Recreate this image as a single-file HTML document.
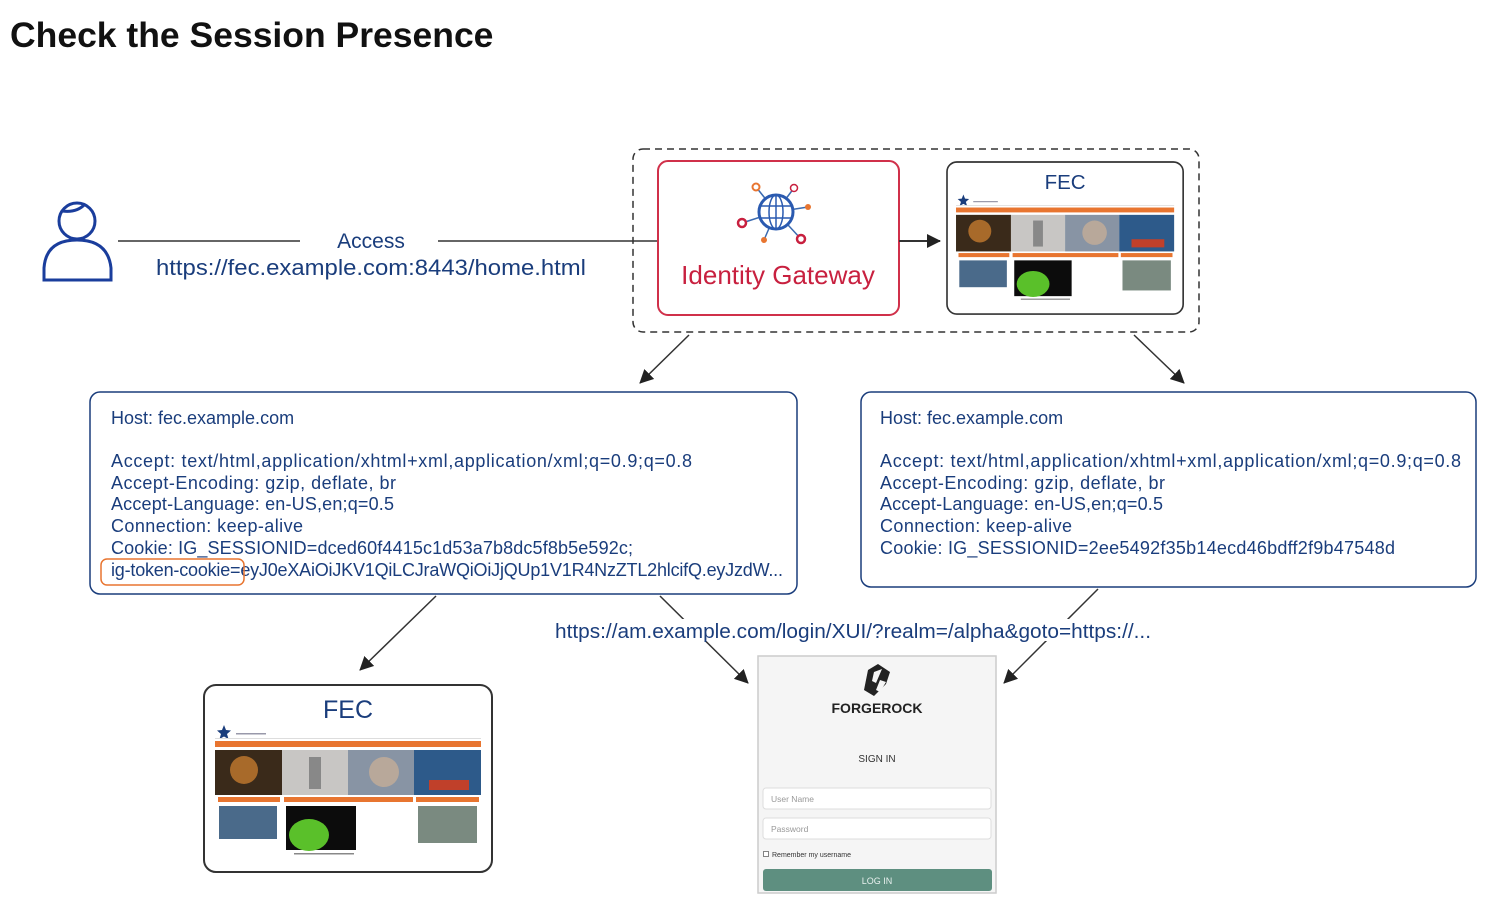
<!DOCTYPE html>
<html><head><meta charset="utf-8"><style>
body{margin:0;background:#fff;}
svg{display:block;font-family:"Liberation Sans",sans-serif;}
</style></head><body>
<svg width="1506" height="909" viewBox="0 0 1506 909" xmlns="http://www.w3.org/2000/svg">
<defs>
<marker id="ah2" markerWidth="14" markerHeight="14" refX="13" refY="7" orient="auto" markerUnits="userSpaceOnUse" viewBox="0 0 14 14"><path d="M0,0 L14,7 L0,14 z" fill="#222"/></marker>
<g id="thumb">
<rect x="0" y="0" width="288" height="187" rx="12" fill="#fff" stroke="#333" stroke-width="2"/>
<text x="144" y="33" font-size="25" fill="#1a3d7c" text-anchor="middle">FEC</text>
<path d="M20,40 l2,5 5,0.5 -4,3.5 1.5,5 -4.5,-2.5 -4.5,2.5 1.5,-5 -4,-3.5 5,-0.5z" fill="#1a3d7c"/>
<rect x="32" y="48" width="30" height="1.5" fill="#99a"/>
<rect x="11" y="53" width="266" height="1" fill="#ddd"/>
<rect x="11" y="56" width="266" height="6" fill="#e87530"/>
<rect x="11" y="65" width="67" height="45" fill="#3a2a1a"/>
<circle cx="40" cy="85" r="14" fill="#a86a2a"/>
<rect x="78" y="65" width="66" height="45" fill="#c8c6c4"/>
<rect x="105" y="72" width="12" height="32" fill="#888"/>
<rect x="144" y="65" width="66" height="45" fill="#8894a4"/>
<circle cx="180" cy="87" r="15" fill="#b8a89a"/>
<rect x="210" y="65" width="67" height="45" fill="#2d5a8a"/>
<rect x="225" y="95" width="40" height="10" fill="#c0402a"/>
<rect x="14" y="112" width="62" height="5" fill="#e87530"/>
<rect x="80" y="112" width="129" height="5" fill="#e87530"/>
<rect x="212" y="112" width="63" height="5" fill="#e87530"/>
<rect x="15" y="121" width="58" height="33" fill="#4a6a8a"/>
<rect x="82" y="121" width="70" height="44" fill="#0c0c0c"/>
<ellipse cx="105" cy="150" rx="20" ry="16" fill="#5ac02a"/>
<rect x="214" y="121" width="59" height="37" fill="#7a8a80"/>
<rect x="90" y="168" width="60" height="1.5" fill="#888"/>
</g>
</defs>

<text x="10" y="47" font-size="35.5" font-weight="bold" fill="#111">Check the Session Presence</text>

<g fill="none" stroke="#1a3d9c" stroke-width="3">
<circle cx="77" cy="221" r="18"/>
<path d="M62,211 Q77,213 85,204"/>
<path d="M44,280 L44,268 Q46,240 77,240 Q108,240 111,268 L111,280 Z"/>
</g>

<line x1="118" y1="241" x2="300" y2="241" stroke="#333" stroke-width="1.5"/>
<line x1="438" y1="241" x2="657" y2="241" stroke="#333" stroke-width="1.5"/>
<text x="371" y="248" font-size="21" fill="#1a3d7c" text-anchor="middle">Access</text>
<text x="156" y="275" font-size="22" fill="#1a3d7c" textLength="430" lengthAdjust="spacingAndGlyphs">https://fec.example.com:8443/home.html</text>

<rect x="633" y="149" width="566" height="183" rx="10" fill="none" stroke="#333" stroke-width="1.5" stroke-dasharray="7,5"/>
<rect x="658" y="161" width="241" height="154" rx="10" fill="#fff" stroke="#d0304a" stroke-width="2"/>
<text x="778" y="284" font-size="26" fill="#c8203f" text-anchor="middle">Identity Gateway</text>
<g stroke="#3a6ab0" stroke-width="1.5" fill="none">
<line x1="776" y1="212" x2="756" y2="187"/><line x1="776" y1="212" x2="794" y2="188"/>
<line x1="776" y1="212" x2="808" y2="207"/><line x1="776" y1="212" x2="742" y2="223"/>
<line x1="776" y1="212" x2="764" y2="240"/><line x1="776" y1="212" x2="801" y2="239"/>
</g>
<circle cx="776" cy="212" r="17" fill="#fff" stroke="#2a5ab0" stroke-width="3"/>
<g stroke="#2a5ab0" stroke-width="1.5" fill="none">
<ellipse cx="776" cy="212" rx="7" ry="17"/><line x1="776" y1="195" x2="776" y2="229"/>
<line x1="759" y1="206" x2="793" y2="206"/><line x1="759" y1="218" x2="793" y2="218"/>
</g>
<circle cx="756" cy="187" r="3.5" fill="#fff" stroke="#e87530" stroke-width="2"/>
<circle cx="794" cy="188" r="3.5" fill="#fff" stroke="#c8203f" stroke-width="1.5"/>
<circle cx="808" cy="207" r="3" fill="#e87530"/>
<circle cx="742" cy="223" r="4" fill="#fff" stroke="#c8203f" stroke-width="2.5"/>
<circle cx="764" cy="240" r="3" fill="#e87530"/>
<circle cx="801" cy="239" r="4" fill="#fff" stroke="#c8203f" stroke-width="2.5"/>

<line x1="899" y1="241" x2="940" y2="241" stroke="#333" stroke-width="2" marker-end="url(#ah2)"/>
<use href="#thumb" transform="translate(947,162) scale(0.82,0.813)"/>

<line x1="689" y1="335" x2="640" y2="383" stroke="#333" stroke-width="1.5" marker-end="url(#ah2)"/>
<line x1="1134" y1="335" x2="1184" y2="383" stroke="#333" stroke-width="1.5" marker-end="url(#ah2)"/>

<rect x="90" y="392" width="707" height="202" rx="10" fill="#fff" stroke="#1a3d7c" stroke-width="1.5"/>
<g font-size="18" fill="#1a3d7c">
<text x="111" y="424">Host: fec.example.com</text>
<text x="111" y="467" textLength="581">Accept:  text/html,application/xhtml+xml,application/xml;q=0.9;q=0.8</text>
<text x="111" y="489" textLength="285">Accept-Encoding:  gzip, deflate, br</text>
<text x="111" y="510" textLength="283">Accept-Language:  en-US,en;q=0.5</text>
<text x="111" y="532" textLength="192">Connection:  keep-alive</text>
<text x="111" y="554" textLength="522">Cookie:  IG_SESSIONID=dced60f4415c1d53a7b8dc5f8b5e592c;</text>
<text x="111" y="576" textLength="672">ig-token-cookie=eyJ0eXAiOiJKV1QiLCJraWQiOiJjQUp1V1R4NzZTL2hlcifQ.eyJzdW...</text>
</g>
<rect x="101" y="559" width="143" height="26" rx="6" fill="none" stroke="#e87530" stroke-width="1.5"/>

<rect x="861" y="392" width="615" height="195" rx="10" fill="#fff" stroke="#1a3d7c" stroke-width="1.5"/>
<g font-size="18" fill="#1a3d7c">
<text x="880" y="424">Host: fec.example.com</text>
<text x="880" y="467" textLength="581">Accept:  text/html,application/xhtml+xml,application/xml;q=0.9;q=0.8</text>
<text x="880" y="489" textLength="285">Accept-Encoding:  gzip, deflate, br</text>
<text x="880" y="510" textLength="283">Accept-Language:  en-US,en;q=0.5</text>
<text x="880" y="532" textLength="192">Connection:  keep-alive</text>
<text x="880" y="554" textLength="515">Cookie:  IG_SESSIONID=2ee5492f35b14ecd46bdff2f9b47548d</text>
</g>

<line x1="436" y1="596" x2="360" y2="670" stroke="#333" stroke-width="1.5" marker-end="url(#ah2)"/>
<line x1="660" y1="596" x2="748" y2="683" stroke="#333" stroke-width="1.5" marker-end="url(#ah2)"/>
<line x1="1098" y1="589" x2="1004" y2="683" stroke="#333" stroke-width="1.5" marker-end="url(#ah2)"/>
<rect x="556" y="619" width="594" height="22" fill="#fff"/>
<text x="555" y="638" font-size="20" fill="#1a3d7c" textLength="596" lengthAdjust="spacingAndGlyphs">https://am.example.com/login/XUI/?realm=/alpha&amp;goto=https://...</text>

<use href="#thumb" transform="translate(204,685)"/>

<rect x="758" y="656" width="238" height="237" fill="#f5f5f5" stroke="#ccc" stroke-width="1.5"/>
<path d="M868,670 l10,-6 12,8 -4,12 -12,12 -10,-6z" fill="#222"/>
<path d="M874,672 l8,-3 -6,14 -4,-2z M880,680 l6,2 -6,10 -4,-2z" fill="#f5f5f5"/>
<text x="877" y="713" font-size="14" font-weight="bold" fill="#222" text-anchor="middle">FORGEROCK</text>
<text x="877" y="762" font-size="10" fill="#333" text-anchor="middle">SIGN IN</text>
<rect x="763" y="788" width="228" height="21" rx="3" fill="#fff" stroke="#ddd"/>
<text x="771" y="802" font-size="8.5" fill="#999">User Name</text>
<rect x="763" y="818" width="228" height="21" rx="3" fill="#fff" stroke="#ddd"/>
<text x="771" y="832" font-size="8.5" fill="#999">Password</text>
<rect x="763.5" y="851.5" width="5" height="5" fill="#fff" stroke="#666" stroke-width="0.8"/>
<text x="772" y="857" font-size="7" fill="#333">Remember my username</text>
<rect x="763" y="869" width="229" height="22" rx="3" fill="#5e8f80"/>
<text x="877" y="884" font-size="9" fill="#e8f0ee" text-anchor="middle">LOG IN</text>
</svg>
</body></html>
